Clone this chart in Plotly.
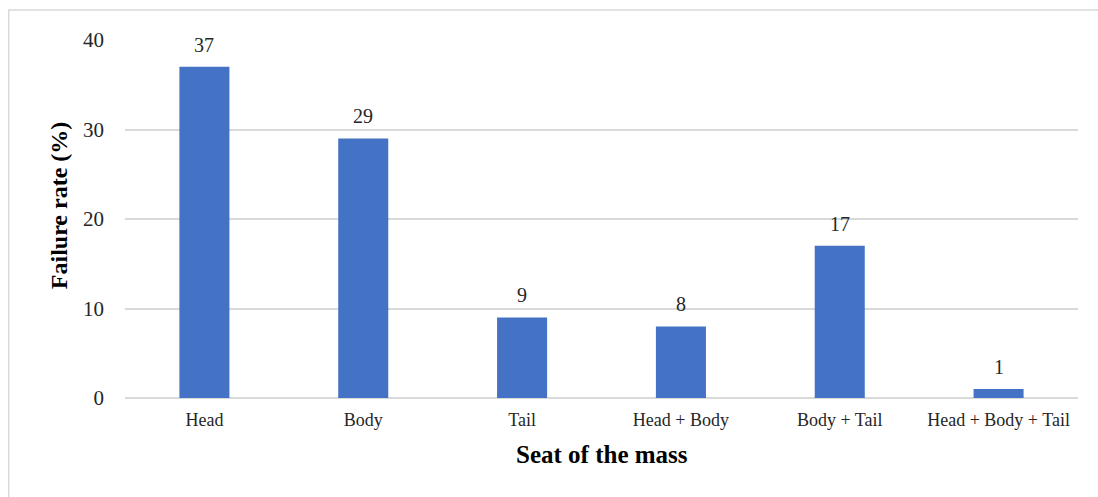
import plotly.graph_objects as go

categories = ["Head", "Body", "Tail", "Head + Body", "Body + Tail", "Head + Body + Tail"]
failure_rate = [37, 29, 9, 8, 17, 1]
y_ticks = [0, 10, 20, 30, 40]

FONT = "Liberation Serif, Times New Roman, serif"
BAR = "#4472C4"
GRID = "#d9d9d9"

fig = go.Figure()
fig.add_trace(go.Bar(
    x=categories,
    y=failure_rate,
    marker=dict(color=BAR, line=dict(width=0)),
    hoverinfo="x+y",
))

# value labels above each bar
for c, v in zip(categories, failure_rate):
    fig.add_annotation(x=c, y=v, text=str(v), showarrow=False,
                       yanchor="bottom", yshift=9,
                       font=dict(family=FONT, size=20, color="#262626"))

# axis titles
fig.add_annotation(xref="paper", yref="paper", x=0.5, y=-0.159, yanchor="middle",
                   text="<b>Seat of the mass</b>", showarrow=False,
                   font=dict(family=FONT, size=25, color="#000000"))
fig.add_annotation(xref="paper", yref="paper", x=-0.068, y=0.5, textangle=-90,
                   xanchor="center", yanchor="middle", xshift=-1, yshift=14,
                   text="<b>Failure rate (%)</b>", showarrow=False,
                   font=dict(family=FONT, size=24, color="#000000"))

# chart frame
fig.add_shape(type="rect", xref="paper", yref="paper",
              x0=-0.122, x1=1.1, y0=-0.29, y1=1.084,
              line=dict(color=GRID, width=1.5), layer="below")

fig.update_layout(
    width=1098, height=497,
    margin=dict(l=125, r=20, t=40, b=99),
    paper_bgcolor="white", plot_bgcolor="white",
    bargap=0.685,
    showlegend=False,
    font=dict(family=FONT, color="#262626"),
    xaxis=dict(showline=False, ticks="", showgrid=False,
               tickfont=dict(family=FONT, size=18, color="#262626"),
               ticklabelstandoff=9),
    yaxis=dict(range=[0, 40], tickvals=y_ticks, showgrid=True, gridcolor=GRID,
               gridwidth=1.5, zeroline=True, zerolinecolor=GRID, zerolinewidth=1.5,
               showline=False, ticks="",
               tickfont=dict(family=FONT, size=21, color="#262626"),
               ticklabelstandoff=20),
)

fig.write_html("out.html")
